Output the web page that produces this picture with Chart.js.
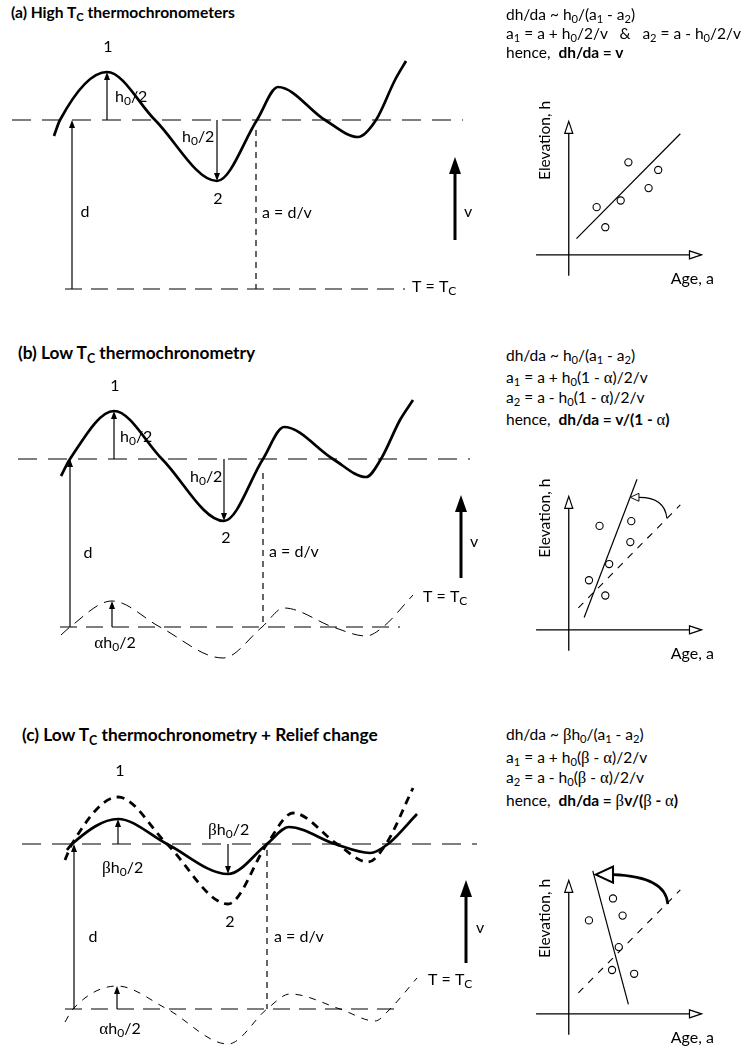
<!DOCTYPE html>
<html>
<head>
<meta charset="utf-8">
<script src="https://cdn.jsdelivr.net/npm/chart.js@4.4.0/dist/chart.umd.min.js"></script>
<style>
  body { margin: 0; background: #fff; }
  #page { position: relative; width: 746px; height: 1050px; overflow: hidden; font-family: Lato, "Open Sans", sans-serif; color: #000; }
  #page canvas { position: absolute; }
  .t { position: absolute; white-space: nowrap; line-height: 20px; font-size: 15.5px; }
  .title { font-weight: bold; font-size: 17.3px; }
  .title.a { font-size: 15.6px; }
  .g { font-family: "Liberation Serif", serif; font-weight: normal; font-size: 1.08em; }
  sub { font-size: 72%; vertical-align: -0.3em; line-height: 0; }
</style>
</head>
<body>
<div id="page">
  <canvas id="leftA" width="500" height="300" style="left:0;top:29px"></canvas>
  <canvas id="leftB" width="500" height="300" style="left:0;top:367px"></canvas>
  <canvas id="leftC" width="500" height="300" style="left:0;top:749px"></canvas>
  <canvas id="rightA" width="266" height="220" style="left:480px;top:80px"></canvas>
  <canvas id="rightB" width="266" height="220" style="left:480px;top:455px"></canvas>
  <canvas id="rightC" width="266" height="220" style="left:480px;top:839px"></canvas>
</div>
<script>
// ---- (a) high Tc: surface profile, distance (x) vs elevation (y), Tc isotherm at 0
const distA = [5.4, 6.0, 10.7, 15.5, 21.7, 25.7, 27.8, 32.5, 35.8, 37.6, 39.5, 40.6];
const surfA = [15.3, 16.9, 21.7, 16.9, 10.8, 16.9, 20.2, 16.9, 15.2, 16.9, 20.9, 22.8];
const meanA = 16.9;
const meanSpanA = [1.2, 46.3];
const tcSpanA = [6.5, 40.5];
const ageMarkA = [25.6, 15.9];

// ---- (b) low Tc
const distB = [6.1, 7.0, 11.4, 16.2, 22.4, 26.3, 28.4, 33.3, 36.6, 38.1, 40.0, 41.3];
const surfB = [15.1, 16.8, 21.6, 16.8, 10.6, 16.8, 20.0, 16.8, 15.0, 16.8, 20.7, 22.7];
const isoDistB = [6.1, 7.0, 11.2, 16.0, 22.3, 26.2, 28.4, 33.3, 36.6, 38.3, 41.3];
const isoB = [-0.8, 0, 2.6, 0, -3.1, 0, 1.9, 0, -0.9, 0, 3.2];
const meanB = 16.8;
const meanSpanB = [1.8, 47.0];
const tcSpanB = [6.0, 40.0];
const ageMarkB = [26.3, 15.4];

// ---- (c) low Tc + relief change
const distC = [6.7, 7.2, 11.8, 16.7, 22.8, 26.7, 28.9, 33.5, 37.0, 38.8, 41.7];
const surfC = [15.9, 16.5, 19.0, 16.5, 13.5, 16.5, 18.2, 16.5, 15.6, 16.5, 19.5];
const reliefDistC = [6.5, 7.2, 11.8, 16.7, 22.8, 26.7, 29.3, 33.7, 36.8, 38.6, 41.3];
const reliefC = [14.9, 16.5, 21.2, 16.5, 10.5, 16.5, 19.6, 16.5, 14.7, 16.5, 22.1];
const isoDistC = [6.5, 7.3, 11.7, 16.7, 22.8, 26.7, 29.0, 34.0, 37.5, 39.0, 41.7];
const isoC = [-1.3, 0, 2.3, 0, -3.5, 0, 1.5, 0, -1.2, 0, 3.1];
const meanC = 16.5;
const meanSpanC = [2.2, 47.7];
const tcSpanC = [6.5, 40.3];
const ageMarkC = [26.7, 15.9];

// arrows: x, from, to (elevation units)
const arrowsA = [
  { x: 7.2, from: 0, to: 16.9 },
  { x: 10.7, from: 16.9, to: 21.7 },
  { x: 21.7, from: 16.9, to: 10.8 },
  { x: 45.5, from: 4.9, to: 13.2, bold: true }
];
const arrowsB = [
  { x: 7.0, from: 0, to: 16.8 },
  { x: 11.4, from: 16.8, to: 21.6 },
  { x: 22.4, from: 16.8, to: 10.6 },
  { x: 11.2, from: 0, to: 2.6 },
  { x: 46.1, from: 4.9, to: 13.2, bold: true }
];
const arrowsC = [
  { x: 7.4, from: 0, to: 16.5 },
  { x: 11.8, from: 16.5, to: 19.0 },
  { x: 22.8, from: 16.5, to: 13.5 },
  { x: 11.7, from: 0, to: 2.3 },
  { x: 46.6, from: 4.6, to: 12.9, bold: true }
];

const labelsA = [
  { x: 10.8, y: 24.2, text: '1', align: 'center' },
  { x: 11.5, y: 19.2, text: 'h_0/2' },
  { x: 18.2, y: 15.2, text: 'h_0/2' },
  { x: 21.8, y: 9.0, text: '2', align: 'center' },
  { x: 8.5, y: 7.7, text: 'd', align: 'center' },
  { x: 26.2, y: 7.6, text: 'a = d/v' },
  { x: 46.4, y: 7.7, text: 'v' },
  { x: 41.2, y: 0.2, text: 'T = T_C' }
];
const labelsB = [
  { x: 11.5, y: 24.1, text: '1', align: 'center' },
  { x: 12.0, y: 19.0, text: 'h_0/2' },
  { x: 19.0, y: 15.0, text: 'h_0/2' },
  { x: 22.6, y: 8.9, text: '2', align: 'center' },
  { x: 8.8, y: 7.4, text: 'd', align: 'center' },
  { x: 26.9, y: 7.5, text: 'a = d/v' },
  { x: 47.0, y: 8.5, text: 'v' },
  { x: 42.3, y: 3.0, text: 'T = T_C' },
  { x: 11.5, y: -1.6, text: 'αh_0/2', align: 'center' }
];
const labelsC = [
  { x: 12.0, y: 23.8, text: '1', align: 'center' },
  { x: 10.2, y: 14.1, text: 'βh_0/2' },
  { x: 20.8, y: 17.9, text: 'βh_0/2' },
  { x: 23.0, y: 8.7, text: '2', align: 'center' },
  { x: 9.3, y: 7.2, text: 'd', align: 'center' },
  { x: 27.4, y: 7.2, text: 'a = d/v' },
  { x: 47.6, y: 8.1, text: 'v' },
  { x: 42.8, y: 2.9, text: 'T = T_C' },
  { x: 12.0, y: -2.0, text: 'αh_0/2', align: 'center' }
];

// ---- age-elevation plots: age (x) vs elevation (y)
const ageA = [2.9, 3.8, 5.4, 6.2, 8.3, 9.3];
const elevA = [5.0, 2.9, 5.7, 9.7, 7.0, 8.9];
const fitAgeA = [0.8, 11.6];
const fitElevA = [1.7, 12.7];

const ageB = [3.2, 6.5, 6.4, 4.2, 2.1, 3.8];
const elevB = [10.9, 11.4, 9.2, 6.9, 5.2, 3.6];
const fitAgeB = [1.6, 7.1];
const fitElevB = [1.3, 15.8];
const highAgeB = [1.0, 11.6];
const highElevB = [2.3, 13.1];

const ageC = [2.1, 4.6, 5.6, 5.2, 4.5, 6.8];
const elevC = [9.8, 12.1, 10.3, 7.0, 4.6, 4.2];
const fitAgeC = [2.5, 6.2];
const fitElevC = [15.0, 1.0];
const highAgeC = [1.0, 11.6];
const highElevC = [2.2, 13.0];

const axisAge = [-3.4, 13.8];
const axisElev = [-2.2, 14.0];

const FONT = 'Lato, "Open Sans", sans-serif';
const GREEK_FONT = '"Liberation Serif", serif';

function drawRich(ctx, text, x, y, o) {
  const size = o.size || 16;
  const parts = [];
  for (let i = 0; i < text.length; i++) {
    let ch = text[i], sub = false;
    if (ch === '_') { sub = true; ch = text[++i]; }
    const greek = /[α-ω]/.test(ch);
    const last = parts[parts.length - 1];
    if (last && !sub && !last.sub && last.greek === greek) last.t += ch;
    else parts.push({ t: ch, sub, greek });
  }
  const font = p => (p.sub ? Math.round(size * 0.72) : (p.greek ? size * 1.08 : size)) + 'px ' + (p.greek ? GREEK_FONT : FONT);
  let w = 0;
  parts.forEach(p => { ctx.font = font(p); p.w = ctx.measureText(p.t).width; w += p.w; });
  let cx = o.align === 'center' ? x - w / 2 : o.align === 'right' ? x - w : x;
  ctx.textAlign = 'left';
  ctx.textBaseline = 'middle';
  parts.forEach(p => {
    ctx.font = font(p);
    ctx.fillText(p.t, cx, p.sub ? y + size * 0.28 : y);
    cx += p.w;
  });
}

function openHead(ctx, bx, by, tx, ty, hw, width) {
  const dx = tx - bx, dy = ty - by, len = Math.hypot(dx, dy);
  const px = -dy / len * hw, py = dx / len * hw;
  ctx.beginPath();
  ctx.moveTo(tx, ty);
  ctx.lineTo(bx + px, by + py);
  ctx.lineTo(bx - px, by - py);
  ctx.closePath();
  ctx.fillStyle = '#fff';
  ctx.fill();
  ctx.lineWidth = width;
  ctx.stroke();
}

const marksPlugin = {
  id: 'marks',
  afterDatasetsDraw(chart, args, opts) {
    const { ctx } = chart;
    const x = chart.scales.x, y = chart.scales.y;
    ctx.save();
    ctx.strokeStyle = '#000';
    ctx.fillStyle = '#000';
    (opts.arrows || []).forEach(a => {
      const px = x.getPixelForValue(a.x);
      const p0 = y.getPixelForValue(a.from), p1 = y.getPixelForValue(a.to);
      const dir = Math.sign(p1 - p0);
      const hl = a.bold ? 17 : 8, hw = a.bold ? 6 : 3;
      ctx.lineWidth = a.bold ? 3 : 1.2;
      ctx.beginPath();
      ctx.moveTo(px, p0);
      ctx.lineTo(px, p1 - dir * hl * 0.8);
      ctx.stroke();
      ctx.beginPath();
      ctx.moveTo(px, p1);
      ctx.lineTo(px - hw, p1 - dir * hl);
      ctx.lineTo(px + hw, p1 - dir * hl);
      ctx.closePath();
      ctx.fill();
    });
    ctx.fillStyle = '#000';
    (opts.labels || []).forEach(l => {
      drawRich(ctx, l.text, x.getPixelForValue(l.x), y.getPixelForValue(l.y), { size: l.size || 16, align: l.align });
    });
    if (opts.axes) {
      const ox = x.getPixelForValue(0), oy = y.getPixelForValue(0);
      const xl = x.getPixelForValue(opts.axes.age[0]), xr = x.getPixelForValue(opts.axes.age[1]);
      const yb = y.getPixelForValue(opts.axes.elev[0]), yt = y.getPixelForValue(opts.axes.elev[1]);
      ctx.lineWidth = 1.3;
      ctx.beginPath();
      ctx.moveTo(xl, oy); ctx.lineTo(xr - 12, oy);
      ctx.moveTo(ox, yb); ctx.lineTo(ox, yt + 12);
      ctx.stroke();
      openHead(ctx, xr - 12, oy, xr, oy, 4, 1.2);
      openHead(ctx, ox, yt + 12, ox, yt, 4, 1.2);
      ctx.fillStyle = '#000';
      drawRich(ctx, 'Age, a', x.getPixelForValue(opts.axes.ageLabel[0]), y.getPixelForValue(opts.axes.ageLabel[1]), { size: 16 });
      ctx.save();
      ctx.translate(x.getPixelForValue(opts.axes.elevLabel[0]), y.getPixelForValue(opts.axes.elevLabel[1]));
      ctx.rotate(-Math.PI / 2);
      drawRich(ctx, 'Elevation, h', 0, 0, { size: 15.5, align: 'center' });
      ctx.restore();
    }
    if (opts.bend) {
      const b = opts.bend;
      const s = [x.getPixelForValue(b.from[0]), y.getPixelForValue(b.from[1])];
      const c = [x.getPixelForValue(b.ctrl[0]), y.getPixelForValue(b.ctrl[1])];
      const e = [x.getPixelForValue(b.to[0]), y.getPixelForValue(b.to[1])];
      const t = [x.getPixelForValue(b.tip[0]), y.getPixelForValue(b.tip[1])];
      ctx.lineWidth = b.width;
      ctx.beginPath();
      ctx.moveTo(s[0], s[1]);
      ctx.quadraticCurveTo(c[0], c[1], e[0], e[1]);
      ctx.stroke();
      openHead(ctx, e[0], e[1], t[0], t[1], b.half, b.width * 0.8);
    }
    ctx.restore();
  }
};

const pts = (xs, ys) => xs.map((v, i) => ({ x: v, y: ys[i] }));
const curve = (xs, ys, width, dash) => ({
  data: pts(xs, ys), borderColor: '#000', borderWidth: width, borderDash: dash || [],
  pointRadius: 0, cubicInterpolationMode: 'monotone', fill: false
});
const straight = (xs, ys, width, dash) => ({
  data: pts(xs, ys), borderColor: '#000', borderWidth: width, borderDash: dash || [],
  pointRadius: 0, tension: 0, fill: false
});

function profile(id, sets, arrows, labels) {
  return new Chart(document.getElementById(id), {
    type: 'line',
    data: { datasets: sets },
    options: {
      responsive: false, animation: false, events: [],
      layout: { padding: 0 },
      scales: {
        x: { type: 'linear', min: 0, max: 50, display: false },
        y: { type: 'linear', min: -4, max: 26, display: false }
      },
      plugins: { legend: { display: false }, tooltip: { enabled: false }, marks: { arrows, labels } }
    },
    plugins: [marksPlugin]
  });
}

function agePlot(id, ages, elevs, lines, elevLabelY, bend) {
  const sets = [{
    type: 'scatter', data: pts(ages, elevs), pointStyle: 'circle', pointRadius: 3.6,
    pointBorderWidth: 1.1, pointBorderColor: '#000', pointBackgroundColor: '#fff', showLine: false
  }].concat(lines);
  return new Chart(document.getElementById(id), {
    type: 'line',
    data: { datasets: sets },
    options: {
      responsive: false, animation: false, events: [],
      layout: { padding: 0 },
      scales: {
        x: { type: 'linear', min: -8.7, max: 17.9, display: false },
        y: { type: 'linear', min: -4.2, max: 17.8, display: false }
      },
      plugins: {
        legend: { display: false }, tooltip: { enabled: false },
        marks: {
          axes: { age: axisAge, elev: axisElev, ageLabel: [10.6, -2.5], elevLabel: [-2.5, elevLabelY] },
          bend
        }
      }
    },
    plugins: [marksPlugin]
  });
}

const flat = (span, v) => [v, v];

profile('leftA', [
  curve(distA, surfA, 2.7),
  straight(meanSpanA, flat(meanSpanA, meanA), 1.2, [19, 11]),
  straight(tcSpanA, flat(tcSpanA, 0), 1.2, [17, 9]),
  straight([ageMarkA[0], ageMarkA[0]], [ageMarkA[1], 0], 1.2, [6, 5])
], arrowsA, labelsA);

profile('leftB', [
  curve(distB, surfB, 2.7),
  curve(isoDistB, isoB, 1, [11, 7]),
  straight(meanSpanB, flat(meanSpanB, meanB), 1.2, [19, 11]),
  straight(tcSpanB, flat(tcSpanB, 0), 1.2, [17, 9]),
  straight([ageMarkB[0], ageMarkB[0]], [ageMarkB[1], 0], 1.2, [6, 5])
], arrowsB, labelsB);

profile('leftC', [
  curve(distC, surfC, 2.7),
  curve(reliefDistC, reliefC, 2.8, [8, 6]),
  curve(isoDistC, isoC, 1, [7, 7]),
  straight(meanSpanC, flat(meanSpanC, meanC), 1.2, [19, 11]),
  straight(tcSpanC, flat(tcSpanC, 0), 1.2, [17, 9]),
  straight([ageMarkC[0], ageMarkC[0]], [ageMarkC[1], 0], 1.2, [6, 5])
], arrowsC, labelsC);

agePlot('rightA', ageA, elevA, [straight(fitAgeA, fitElevA, 1.2)], 12.0);
agePlot('rightB', ageB, elevB, [
  straight(fitAgeB, fitElevB, 1.2),
  straight(highAgeB, highElevB, 1.1, [7, 7])
], 11.7, { from: [10.2, 11.7], ctrl: [10.0, 13.9], to: [7.3, 13.9], tip: [6.4, 13.9], width: 1.2, half: 4 });
agePlot('rightC', ageC, elevC, [
  straight(fitAgeC, fitElevC, 1.2),
  straight(highAgeC, highElevC, 1.1, [7, 7])
], 10.0, { from: [10.3, 11.5], ctrl: [10.1, 14.4], to: [4.6, 14.6], tip: [2.8, 14.6], width: 2.6, half: 8 });

// text blocks (titles and relations)
const A = '<span class="g">α</span>', B = '<span class="g">β</span>';
const notes = [
  { x: 11, y: 12, cls: 'title a', html: '(a) High T<sub>C</sub> thermochronometers' },
  { x: 506, y: 14, html: 'dh/da ~ h<sub>0</sub>/(a<sub>1</sub> - a<sub>2</sub>)' },
  { x: 506, y: 33, html: 'a<sub>1</sub> = a + h<sub>0</sub>/2/v &nbsp; &amp; &nbsp; a<sub>2</sub> = a - h<sub>0</sub>/2/v' },
  { x: 506, y: 52, html: 'hence, &nbsp;<b>dh/da = v</b>' },
  { x: 18, y: 353, cls: 'title', html: '(b) Low T<sub>C</sub> thermochronometry' },
  { x: 506, y: 355, html: 'dh/da ~ h<sub>0</sub>/(a<sub>1</sub> - a<sub>2</sub>)' },
  { x: 506, y: 377, html: 'a<sub>1</sub> = a + h<sub>0</sub>(1 - ' + A + ')/2/v' },
  { x: 506, y: 397, html: 'a<sub>2</sub> = a - h<sub>0</sub>(1 - ' + A + ')/2/v' },
  { x: 506, y: 419, html: 'hence, &nbsp;<b>dh/da = v/(1 - </b>' + A + '<b>)</b>' },
  { x: 22, y: 735, cls: 'title', html: '(c) Low T<sub>C</sub> thermochronometry + Relief change' },
  { x: 506, y: 734, html: 'dh/da ~ ' + B + 'h<sub>0</sub>/(a<sub>1</sub> - a<sub>2</sub>)' },
  { x: 506, y: 757, html: 'a<sub>1</sub> = a + h<sub>0</sub>(' + B + ' - ' + A + ')/2/v' },
  { x: 506, y: 777, html: 'a<sub>2</sub> = a - h<sub>0</sub>(' + B + ' - ' + A + ')/2/v' },
  { x: 506, y: 800, html: 'hence, &nbsp;<b>dh/da = </b>' + B + '<b>v/(</b>' + B + '<b> - </b>' + A + '<b>)</b>' }
];
const page = document.getElementById('page');
notes.forEach(n => {
  const d = document.createElement('div');
  d.className = 't' + (n.cls ? ' ' + n.cls : '');
  d.style.left = n.x + 'px';
  d.style.top = (n.y - 10) + 'px';
  d.innerHTML = n.html;
  page.appendChild(d);
});
</script>
</body>
</html>
